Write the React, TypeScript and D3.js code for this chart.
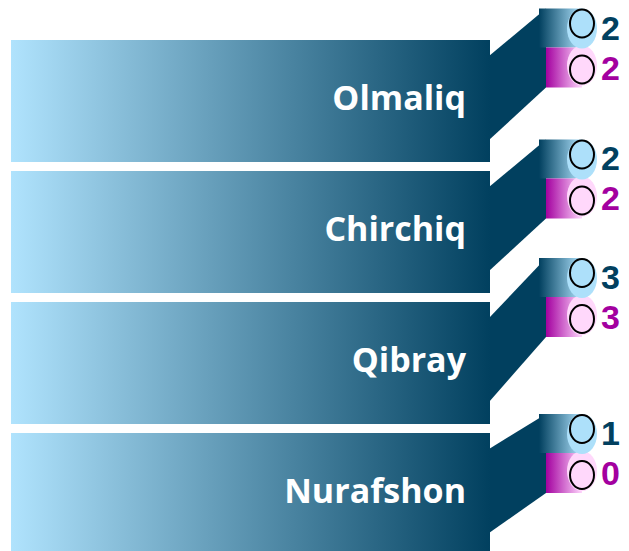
import { useEffect, useRef } from 'react';
import * as d3 from 'd3';

// Chart data
const cities = ['Olmaliq', 'Chirchiq', 'Qibray', 'Nurafshon'];
const seriesBlue = [2, 2, 3, 1];
const seriesPink = [2, 2, 3, 0];

const WIDTH = 629;
const HEIGHT = 551;

export default function App() {
  const svgRef = useRef<SVGSVGElement | null>(null);

  useEffect(() => {
    if (!svgRef.current) return;
    const svg = d3.select(svgRef.current);
    svg.selectAll('*').remove();

    const rows = cities.map((name, i) => ({ name, a: seriesBlue[i], b: seriesPink[i] }));

    // big bars stacked vertically
    const y = d3.scaleBand<string>()
      .domain(cities)
      .range([40, 555])
      .paddingInner(0.0687)
      .paddingOuter(0);

    const x = d3.scaleLinear().domain([0, 1]).range([11, 490]);

    // small marker group is lifted above its row depending on the larger value
    const lift = d3.scaleLinear()
      .domain([1, 3])
      .range([19, 44]);

    const defs = svg.append('defs');

    const mkGrad = (id: string, from: string, to: string) => {
      const g = defs.append('linearGradient')
        .attr('id', id)
        .attr('x1', '0%').attr('x2', '100%')
        .attr('y1', '0%').attr('y2', '0%');
      g.append('stop').attr('offset', '0%').attr('stop-color', from);
      g.append('stop').attr('offset', '100%').attr('stop-color', to);
    };
    mkGrad('bigGrad', '#b0e3fd', '#01405f');
    mkGrad('blueGrad', '#01405f', '#b0e3fd');
    mkGrad('pinkGrad', '#a3009f', '#ffd6fd');

    const dark = '#01405f';
    const stemX = 546;
    const blueX = 539;
    const cx = 582;

    rows.forEach(d => {
      const top = y(d.name)!;
      const bottom = top + y.bandwidth();
      const bT = top - lift(Math.max(d.a, d.b));
      const g = svg.append('g');

      // connector
      g.append('polygon')
        .attr('points', [
          [x(1) - 1, top + 16],
          [stemX, bT],
          [stemX, bT + 79],
          [x(1) - 1, bottom - 22],
        ].map(p => p.join(',')).join(' '))
        .attr('fill', dark);

      // big bar
      g.append('rect')
        .attr('x', x(0))
        .attr('y', top)
        .attr('width', x(1) - x(0))
        .attr('height', y.bandwidth())
        .attr('fill', 'url(#bigGrad)');

      g.append('text')
        .attr('x', 466)
        .attr('y', top + 70)
        .attr('text-anchor', 'end')
        .attr('fill', '#ffffff')
        .style('font-family', '"Open Sans", sans-serif')
        .style('font-weight', 'bold')
        .style('font-size', '34px')
        .text(d.name);

      // small bars
      g.append('rect')
        .attr('x', blueX)
        .attr('y', bT)
        .attr('width', cx - blueX)
        .attr('height', 39)
        .attr('fill', 'url(#blueGrad)');
      g.append('rect')
        .attr('x', stemX)
        .attr('y', bT + 39)
        .attr('width', cx - stemX)
        .attr('height', 40)
        .attr('fill', 'url(#pinkGrad)');

      // ellipses
      g.append('ellipse')
        .attr('cx', cx).attr('cy', bT + 57)
        .attr('rx', 15).attr('ry', 20)
        .attr('fill', '#ffd8fb');
      g.append('ellipse')
        .attr('cx', cx).attr('cy', bT + 20)
        .attr('rx', 15).attr('ry', 20)
        .attr('fill', '#ade0fa');
      g.append('ellipse')
        .attr('cx', cx).attr('cy', bT + 15)
        .attr('rx', 12).attr('ry', 14)
        .attr('fill', 'none')
        .attr('stroke', '#000')
        .attr('stroke-width', 2);
      g.append('ellipse')
        .attr('cx', cx).attr('cy', bT + 61)
        .attr('rx', 12).attr('ry', 14)
        .attr('fill', 'none')
        .attr('stroke', '#000')
        .attr('stroke-width', 2);

      // value labels
      g.append('text')
        .attr('x', cx + 19)
        .attr('y', bT + 31)
        .attr('fill', dark)
        .style('font-family', '"Liberation Sans", Arial, sans-serif')
        .style('font-weight', 'bold')
        .style('font-size', '34px')
        .text(d.a);
      g.append('text')
        .attr('x', cx + 19)
        .attr('y', bT + 71)
        .attr('fill', '#a3009f')
        .style('font-family', '"Liberation Sans", Arial, sans-serif')
        .style('font-weight', 'bold')
        .style('font-size', '34px')
        .text(d.b);
    });
  }, []);

  return (
    <svg
      ref={svgRef}
      width={WIDTH}
      height={HEIGHT}
      style={{ position: 'absolute', left: 0, top: 0, display: 'block', background: '#fff' }}
    />
  );
}
